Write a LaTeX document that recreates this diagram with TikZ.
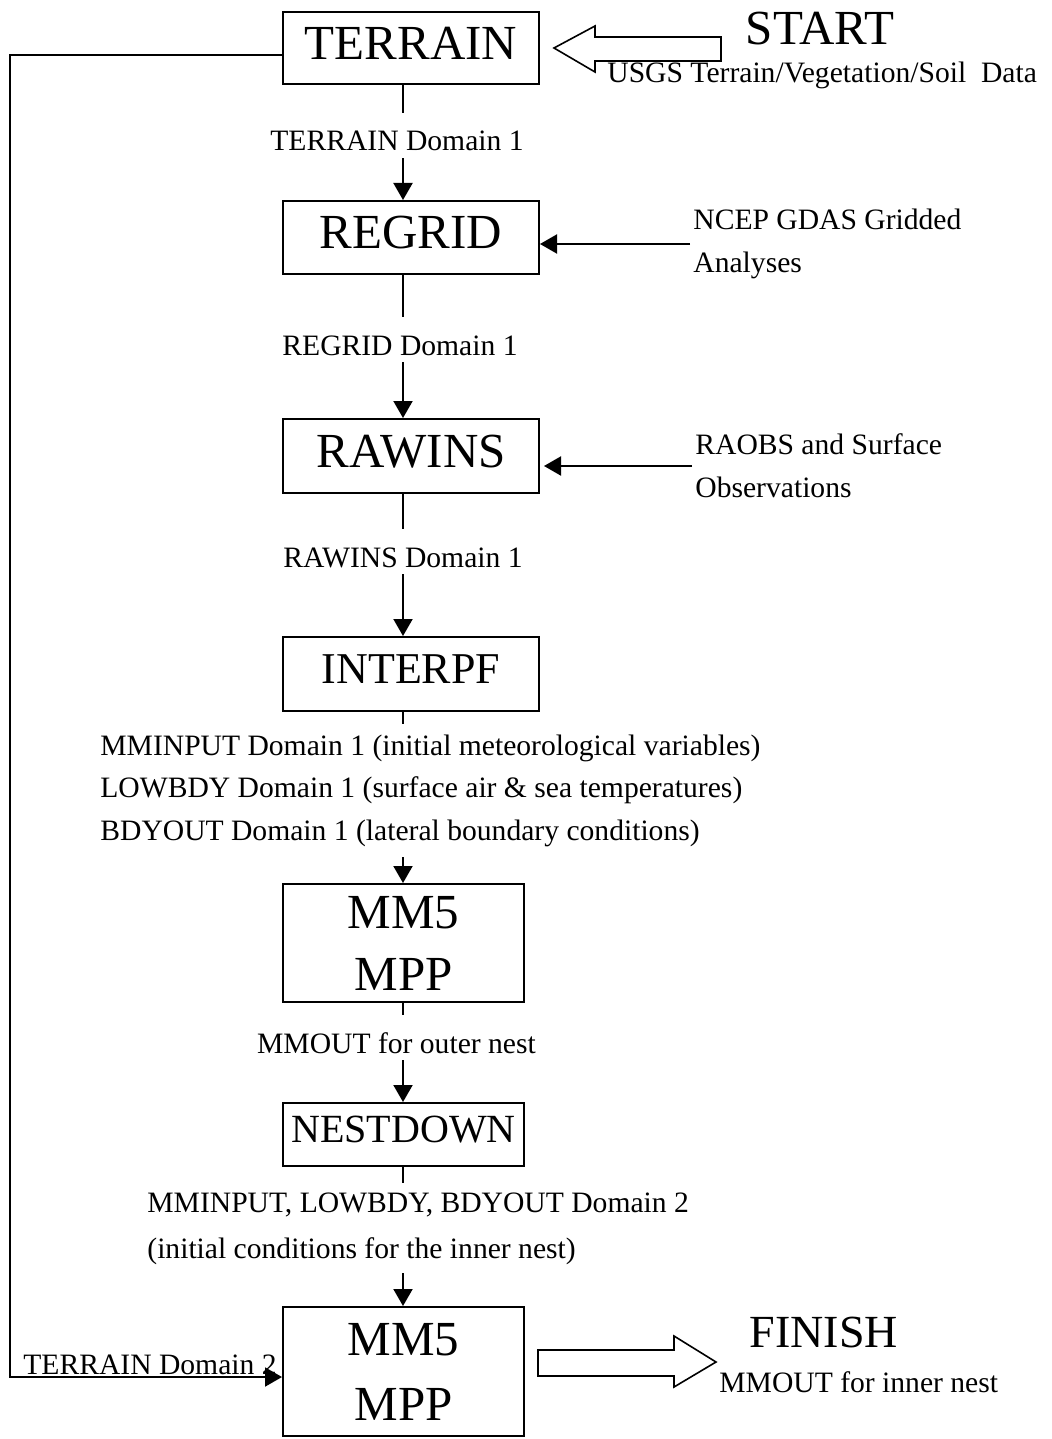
\documentclass[tikz,border=0pt]{standalone}
\usepackage{fontspec}
\setmainfont{Liberation Serif}
\usetikzlibrary{arrows.meta}

\begin{document}
\begin{tikzpicture}[x=0.5pt,y=-0.5pt]

\tikzset{box/.style={draw, line width=1pt, inner sep=0pt, align=center, font=\fontsize{24.5}{31}\selectfont},
  onebox/.style={box, text depth=5pt},
  flow/.style={line width=1pt, -{Triangle[length=8.5pt,width=9.5pt]}},
  flowlabel/.style={fill=white, anchor=base, inner xsep=2pt, inner ysep=3.5pt, text height=15.5pt, text depth=0pt, font=\fontsize{14.8}{21.25}\selectfont},
  note/.style={align=left, inner sep=0pt, font=\fontsize{14.8}{21.5}\selectfont},
  hollow/.style={draw, line width=0.8pt}}

\useasboundingbox (0,0) rectangle (1052,1439);

\node[onebox, minimum width=128pt, minimum height=36pt] (terrain) at (411,48) {TERRAIN};
\node[onebox, minimum width=128pt, minimum height=36.5pt] (regrid) at (411,237.5) {REGRID};
\node[onebox, minimum width=128pt, minimum height=37pt] (rawins) at (411,456) {RAWINS};
\node[onebox, minimum width=128pt, minimum height=37pt, font=\fontsize{22}{28}\selectfont] (interpf) at (411,674) {INTERPF};
\node[box, minimum width=120.5pt, minimum height=59pt] (mmone) at (403.5,943) {MM5\\MPP};
\node[onebox, minimum width=120.5pt, minimum height=31.5pt, font=\fontsize{20}{24}\selectfont] (nestdown) at (403.5,1134.5) {NESTDOWN};
\node[box, minimum width=120.5pt, minimum height=64.5pt, font=\fontsize{24.5}{32.5}\selectfont] (mmtwo) at (403.5,1371.5) {MM5\\MPP};

\coordinate (axis) at (403,0);
\coordinate (loopx) at (10,0);
\coordinate (loopend) at ([yshift=-2.75pt]mmtwo.west);

\foreach \a/\b in {terrain/regrid, regrid/rawins, rawins/interpf, interpf/mmone, mmone/nestdown, nestdown/mmtwo}
  \draw[flow] (\a.south -| axis) -- (\b.north -| axis);

\node[flowlabel] (terrainout) at (397,151) {TERRAIN Domain 1};
\node[flowlabel] (regridout) at (400,355) {REGRID Domain 1};
\node[flowlabel] (rawinsout) at (403,567) {RAWINS Domain 1};
\node[flowlabel] (outerout) at (396.5,1053) {MMOUT for outer nest};
\node[note, fill=white, inner ysep=5.25pt, anchor=north west, font=\fontsize{14.8}{21.25}\selectfont] (interpfout) at (100,724)
  {MMINPUT Domain 1 (initial meteorological variables)\\
   LOWBDY Domain 1 (surface air \& sea temperatures)\\
   BDYOUT Domain 1 (lateral boundary conditions)};
\node[note, fill=white, inner ysep=4.5pt, anchor=north west, font=\fontsize{14.8}{23}\selectfont] (nestout) at (147,1183)
  {MMINPUT, LOWBDY, BDYOUT Domain 2\\
   (initial conditions for the inner nest)};

\node[note, anchor=west, inner xsep=1.5pt] (ncep) at (690,244) {NCEP GDAS Gridded\\Analyses};
\node[note, anchor=west, inner xsep=1.5pt] (raobs) at (692,466) {RAOBS and Surface\\Observations};
\draw[flow] (ncep.west) -- (ncep.west -| regrid.east);
\draw[flow, shorten >=2pt] (raobs.west) -- (raobs.west -| rawins.east);

\draw[flow] ([yshift=-3.5pt]terrain.west) -| (loopx |- loopend) -- (loopend);
\node[note, anchor=base west] (terraintwo) at (23,1374) {TERRAIN Domain 2};

\node[inner sep=0pt, font=\fontsize{24.5}{30}\selectfont] (start) at (820,29) {START};
\node[note, anchor=base west] (usgs) at (607,83) {USGS Terrain/Vegetation/Soil\ \ Data};
\draw[hollow] ([xshift=7pt]terrain.east) -- ++(41,-22) -- ++(0,11) -- ++(126,0) -- ++(0,24)
  -- ++(-126,0) -- ++(0,11) -- cycle;

\node[inner sep=0pt, font=\fontsize{23}{28}\selectfont] (finish) at (824,1332) {FINISH};
\node[note, anchor=base west] (innerout) at (719,1392) {MMOUT for inner nest};
\draw[hollow] ([xshift=6.5pt,yshift=4.75pt]mmtwo.east) -- ++(0,-12) -- ++(136,0) -- ++(0,-14) -- ++(42,26)
  -- ++(-42,25) -- ++(0,-11) -- ++(-136,0) -- cycle;

\end{tikzpicture}
\end{document}
